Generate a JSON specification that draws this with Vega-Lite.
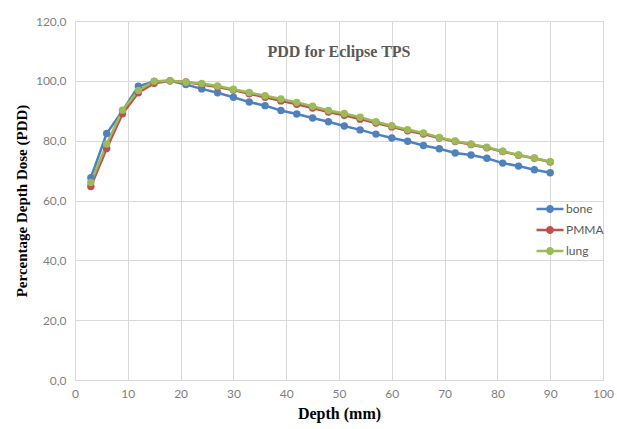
{
  "$schema": "https://vega.github.io/schema/vega-lite/v6.json",
  "width": 528,
  "height": 359,
  "autosize": {"type": "none"},
  "padding": {"left": 75, "top": 21, "right": 14, "bottom": 49},
  "background": "white",
  "title": {
    "text": "PDD for Eclipse TPS",
    "anchor": "middle",
    "frame": "group",
    "font": "Liberation Serif",
    "fontSize": 16,
    "fontWeight": "bold",
    "color": "#595959",
    "baseline": "alphabetic",
    "offset": 0,
    "dy": 58
  },
  "data": {"values": [
    {"depth":3,"material":"bone","pdd":67.6},{"depth":6,"material":"bone","pdd":82.4},{"depth":9,"material":"bone","pdd":90.0},{"depth":12,"material":"bone","pdd":98.2},{"depth":15,"material":"bone","pdd":99.8},{"depth":18,"material":"bone","pdd":100.0},{"depth":21,"material":"bone","pdd":98.8},{"depth":24,"material":"bone","pdd":97.3},{"depth":27,"material":"bone","pdd":96.0},{"depth":30,"material":"bone","pdd":94.5},{"depth":33,"material":"bone","pdd":92.9},{"depth":36,"material":"bone","pdd":91.7},{"depth":39,"material":"bone","pdd":90.1},{"depth":42,"material":"bone","pdd":88.9},{"depth":45,"material":"bone","pdd":87.6},{"depth":48,"material":"bone","pdd":86.3},{"depth":51,"material":"bone","pdd":84.9},{"depth":54,"material":"bone","pdd":83.6},{"depth":57,"material":"bone","pdd":82.2},{"depth":60,"material":"bone","pdd":80.9},{"depth":63,"material":"bone","pdd":79.8},{"depth":66,"material":"bone","pdd":78.4},{"depth":69,"material":"bone","pdd":77.3},{"depth":72,"material":"bone","pdd":75.9},{"depth":75,"material":"bone","pdd":75.2},{"depth":78,"material":"bone","pdd":74.1},{"depth":81,"material":"bone","pdd":72.5},{"depth":84,"material":"bone","pdd":71.5},{"depth":87,"material":"bone","pdd":70.3},{"depth":90,"material":"bone","pdd":69.3},
    {"depth":3,"material":"PMMA","pdd":64.7},{"depth":6,"material":"PMMA","pdd":77.4},{"depth":9,"material":"PMMA","pdd":89.0},{"depth":12,"material":"PMMA","pdd":96.0},{"depth":15,"material":"PMMA","pdd":99.2},{"depth":18,"material":"PMMA","pdd":100.0},{"depth":21,"material":"PMMA","pdd":99.6},{"depth":24,"material":"PMMA","pdd":98.8},{"depth":27,"material":"PMMA","pdd":97.9},{"depth":30,"material":"PMMA","pdd":96.9},{"depth":33,"material":"PMMA","pdd":95.7},{"depth":36,"material":"PMMA","pdd":94.5},{"depth":39,"material":"PMMA","pdd":93.3},{"depth":42,"material":"PMMA","pdd":92.2},{"depth":45,"material":"PMMA","pdd":90.9},{"depth":48,"material":"PMMA","pdd":89.6},{"depth":51,"material":"PMMA","pdd":88.5},{"depth":54,"material":"PMMA","pdd":87.2},{"depth":57,"material":"PMMA","pdd":85.9},{"depth":60,"material":"PMMA","pdd":84.6},{"depth":63,"material":"PMMA","pdd":83.3},{"depth":66,"material":"PMMA","pdd":82.2},{"depth":69,"material":"PMMA","pdd":80.9},{"depth":72,"material":"PMMA","pdd":79.7},{"depth":75,"material":"PMMA","pdd":78.7},{"depth":78,"material":"PMMA","pdd":77.6},{"depth":81,"material":"PMMA","pdd":76.4},{"depth":84,"material":"PMMA","pdd":75.1},{"depth":87,"material":"PMMA","pdd":74.1},{"depth":90,"material":"PMMA","pdd":72.9},
    {"depth":3,"material":"lung","pdd":66.0},{"depth":6,"material":"lung","pdd":78.9},{"depth":9,"material":"lung","pdd":90.2},{"depth":12,"material":"lung","pdd":96.8},{"depth":15,"material":"lung","pdd":99.9},{"depth":18,"material":"lung","pdd":100.0},{"depth":21,"material":"lung","pdd":99.5},{"depth":24,"material":"lung","pdd":99.1},{"depth":27,"material":"lung","pdd":98.3},{"depth":30,"material":"lung","pdd":97.2},{"depth":33,"material":"lung","pdd":96.1},{"depth":36,"material":"lung","pdd":95.0},{"depth":39,"material":"lung","pdd":93.9},{"depth":42,"material":"lung","pdd":92.8},{"depth":45,"material":"lung","pdd":91.5},{"depth":48,"material":"lung","pdd":90.1},{"depth":51,"material":"lung","pdd":89.1},{"depth":54,"material":"lung","pdd":87.8},{"depth":57,"material":"lung","pdd":86.3},{"depth":60,"material":"lung","pdd":85.0},{"depth":63,"material":"lung","pdd":83.7},{"depth":66,"material":"lung","pdd":82.6},{"depth":69,"material":"lung","pdd":81.1},{"depth":72,"material":"lung","pdd":79.9},{"depth":75,"material":"lung","pdd":78.9},{"depth":78,"material":"lung","pdd":77.8},{"depth":81,"material":"lung","pdd":76.5},{"depth":84,"material":"lung","pdd":75.2},{"depth":87,"material":"lung","pdd":74.2},{"depth":90,"material":"lung","pdd":73.0}
  ]},
  "encoding": {
    "x": {
      "field": "depth", "type": "quantitative",
      "scale": {"domain": [0, 100], "nice": false},
      "axis": {
        "title": "Depth (mm)", "values": [0,10,20,30,40,50,60,70,80,90,100],
        "titleFont": "Liberation Serif", "titleFontSize": 16, "titleFontWeight": "bold", "titleColor": "#000000", "titlePadding": 6,
        "labelFont": "Lato", "labelFontSize": 12, "labelColor": "#7f7f7f", "labelPadding": 8,
        "ticks": false, "domainColor": "#d9d9d9", "gridColor": "#d9d9d9", "labelFlush": false
      }
    },
    "y": {
      "field": "pdd", "type": "quantitative",
      "scale": {"domain": [0, 120], "nice": false},
      "axis": {
        "title": "Percentage Depth Dose (PDD)", "values": [0,20,40,60,80,100,120],
        "labelExpr": "replace(format(datum.value, '.1f'), '.', ',')",
        "titleFont": "Liberation Serif", "titleFontSize": 15, "titleFontWeight": "bold", "titleColor": "#000000", "titlePadding": 6,
        "labelFont": "Lato", "labelFontSize": 12, "labelColor": "#7f7f7f", "labelPadding": 9,
        "ticks": false, "domain": false, "gridColor": "#d9d9d9"
      }
    },
    "color": {
      "field": "material", "type": "nominal",
      "scale": {"domain": ["bone", "PMMA", "lung"], "range": ["#4F81BD", "#C0504D", "#9BBB59"]},
      "legend": {
        "title": null, "orient": "none", "legendX": 465, "legendY": 178,
        "symbolType": "M-1.35,-0.12L1.35,-0.12L1.35,0.12L-1.35,0.12Z M-0.4,0A0.4,0.4,0,1,1,0.4,0A0.4,0.4,0,1,1,-0.4,0Z",
        "symbolSize": 400, "symbolStrokeWidth": 0,
        "labelFont": "Lato", "labelFontSize": 12, "labelColor": "#595959", "labelOffset": 6,
        "rowPadding": 5
      }
    }
  },
  "layer": [
    {"mark": {"type": "line", "strokeWidth": 2.5}},
    {"mark": {"type": "point", "filled": true, "size": 55, "opacity": 1, "shape": "circle"}}
  ],
  "config": {"view": {"stroke": null}}
}
